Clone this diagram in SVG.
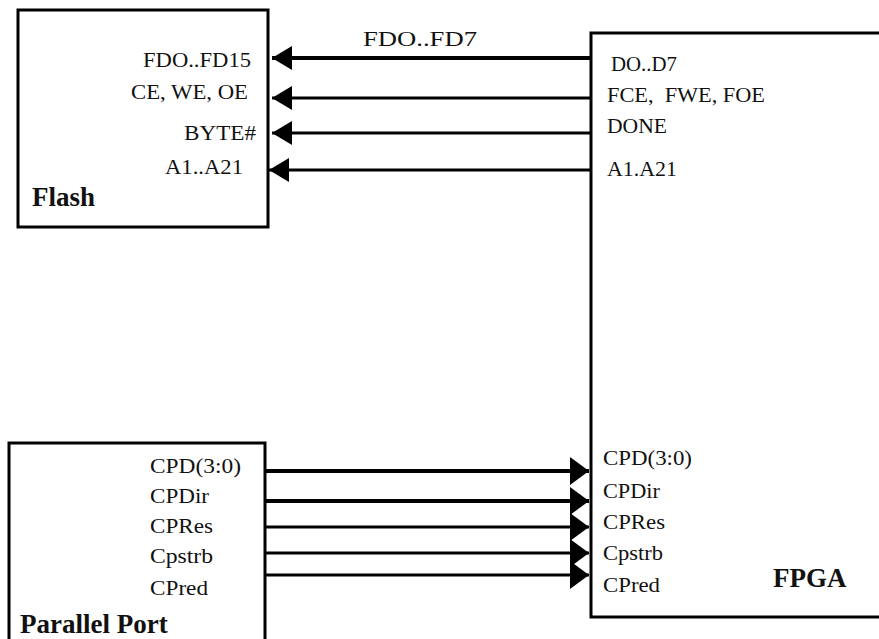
<svg xmlns="http://www.w3.org/2000/svg" width="879" height="639" viewBox="0 0 879 639">
<defs>
<style>
.box{fill:#fff;stroke:#000;stroke-width:3}
.t{font-family:"Liberation Serif","Times New Roman",serif;font-size:21px;fill:#111}
.r{text-anchor:end}
.b{font-weight:bold;font-size:27px}
.w{stroke:#000;fill:none}
</style>
<marker id="ah" markerUnits="userSpaceOnUse" markerWidth="22" markerHeight="28" refX="20" refY="12" orient="auto">
<path d="M0,0 L20,12 L0,24 Z" fill="#000"/>
</marker>
<marker id="ah2" markerUnits="userSpaceOnUse" markerWidth="22" markerHeight="32" refX="19" refY="14" orient="auto">
<path d="M0,0 L19,14 L0,28 Z" fill="#000"/>
</marker>
</defs>
<rect width="879" height="639" fill="#fff"/>
<g id="flash">
<rect class="box" x="18" y="10" width="250" height="217"/>
<text class="t" x="143" y="67" textLength="108" lengthAdjust="spacingAndGlyphs">FDO..FD15</text>
<text class="t" x="131" y="99" textLength="117" lengthAdjust="spacingAndGlyphs">CE, WE, OE</text>
<text class="t" x="184" y="140" textLength="72" lengthAdjust="spacingAndGlyphs">BYTE#</text>
<text class="t" x="165" y="174" textLength="78" lengthAdjust="spacingAndGlyphs">A1..A21</text>
<text class="t b" x="32" y="206">Flash</text>
</g>
<g id="fpga">
<rect class="box" x="591" y="33" width="300" height="584"/>
<text class="t" x="611" y="71" textLength="66" lengthAdjust="spacingAndGlyphs">DO..D7</text>
<text class="t" x="607" y="102" textLength="158" lengthAdjust="spacingAndGlyphs" xml:space="preserve">FCE,  FWE, FOE</text>
<text class="t" x="607" y="133" textLength="60" lengthAdjust="spacingAndGlyphs">DONE</text>
<text class="t" x="607" y="176" textLength="70" lengthAdjust="spacingAndGlyphs">A1.A21</text>
<text class="t" x="603" y="465" textLength="89" lengthAdjust="spacingAndGlyphs">CPD(3:0)</text>
<text class="t" x="603" y="498" textLength="57" lengthAdjust="spacingAndGlyphs">CPDir</text>
<text class="t" x="603" y="529" textLength="62" lengthAdjust="spacingAndGlyphs">CPRes</text>
<text class="t" x="603" y="560" textLength="60" lengthAdjust="spacingAndGlyphs">Cpstrb</text>
<text class="t" x="603" y="592" textLength="57" lengthAdjust="spacingAndGlyphs">CPred</text>
<text class="t b" x="773" y="587">FPGA</text>
</g>
<g id="parallel-port">
<rect class="box" x="9" y="443" width="256" height="210"/>
<text class="t" x="150" y="473" textLength="91" lengthAdjust="spacingAndGlyphs">CPD(3:0)</text>
<text class="t" x="150" y="503" textLength="59" lengthAdjust="spacingAndGlyphs">CPDir</text>
<text class="t" x="150" y="533" textLength="63" lengthAdjust="spacingAndGlyphs">CPRes</text>
<text class="t" x="150" y="563" textLength="63" lengthAdjust="spacingAndGlyphs">Cpstrb</text>
<text class="t" x="150" y="595" textLength="58" lengthAdjust="spacingAndGlyphs">CPred</text>
<text class="t b" x="20" y="633">Parallel Port</text>
</g>
<g id="connectors">
<line class="w" x1="591" y1="58" x2="272" y2="58" stroke-width="4" marker-end="url(#ah)"/>
<line class="w" x1="591" y1="98" x2="272" y2="98" stroke-width="3" marker-end="url(#ah)"/>
<line class="w" x1="591" y1="133" x2="272" y2="133" stroke-width="3" marker-end="url(#ah)"/>
<line class="w" x1="591" y1="170" x2="269" y2="170" stroke-width="3" marker-end="url(#ah)"/>
<text class="t" x="363" y="46" textLength="114" lengthAdjust="spacingAndGlyphs">FDO..FD7</text>
<line class="w" x1="265" y1="471" x2="589" y2="471" stroke-width="4" marker-end="url(#ah2)"/>
<line class="w" x1="265" y1="501" x2="589" y2="501" stroke-width="4" marker-end="url(#ah2)"/>
<line class="w" x1="265" y1="527" x2="589" y2="527" stroke-width="3" marker-end="url(#ah2)"/>
<line class="w" x1="265" y1="553" x2="589" y2="553" stroke-width="3" marker-end="url(#ah2)"/>
<line class="w" x1="265" y1="575" x2="589" y2="575" stroke-width="3" marker-end="url(#ah2)"/>
</g>
</svg>
